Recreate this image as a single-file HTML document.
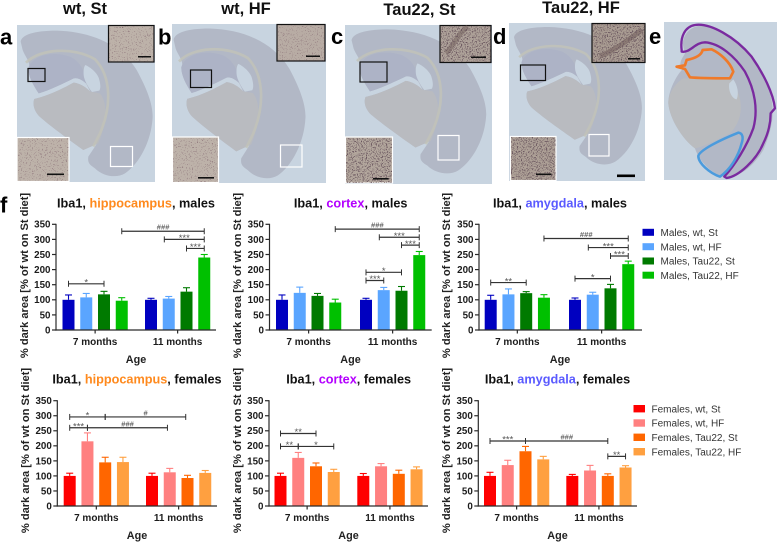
<!DOCTYPE html>
<html lang="en">
<head>
<meta charset="utf-8">
<title>Iba1 dark area figure</title>
<style>
html,body{margin:0;padding:0;background:#fff;}
svg{display:block;font-family:"Liberation Sans",sans-serif;}
.panel-letter{font-size:22px;font-weight:bold;fill:#000;}
.panel-title{font-size:16.5px;font-weight:bold;fill:#111;text-anchor:middle;}
.chart-title{font-size:12.7px;font-weight:bold;fill:#111;text-anchor:middle;}
.y-title{font-size:11.1px;font-weight:bold;fill:#222;text-anchor:middle;}
.x-title{font-size:10.8px;font-weight:bold;fill:#222;text-anchor:middle;}
.tick{font-size:9.8px;font-weight:bold;fill:#1c1c1c;}
.group{font-size:10px;font-weight:bold;fill:#1c1c1c;text-anchor:middle;}
.legend{font-size:10px;fill:#333;}
.sig-star{font-size:9.5px;fill:#555;text-anchor:middle;}
.sig-hash{font-size:7.6px;font-style:italic;font-weight:bold;fill:#666;text-anchor:middle;}
</style>
</head>
<body>
<svg id="figure" xmlns="http://www.w3.org/2000/svg" width="778" height="543" viewBox="0 0 778 543">
<defs>
<filter id="speckle" x="0" y="0" width="100%" height="100%">
<feTurbulence type="fractalNoise" baseFrequency="0.8" numOctaves="2" seed="4"/>
<feColorMatrix type="matrix" values="0 0 0 0 .25  0 0 0 0 .16  0 0 0 0 .18  7 0 0 0 -4.3"/>
</filter>
<filter id="speckle-dense" x="0" y="0" width="100%" height="100%">
<feTurbulence type="fractalNoise" baseFrequency="0.8" numOctaves="2" seed="9"/>
<feColorMatrix type="matrix" values="0 0 0 0 .14  0 0 0 0 .09  0 0 0 0 .11  7 0 0 0 -3.7"/>
</filter>
<g id="brain">
<path fill="#b2b8c6" d="M62,125 C65,105 100,92 170,92 C270,95 360,130 410,210 C440,265 458,310 458,350 C455,420 420,490 375,520 C350,535 310,530 285,505 C270,495 262,490 265,470 L290,432 L250,450 C215,425 160,385 125,355 C105,340 96,315 103,297 L121,292 C161,280 195,262 221,248 C240,250 258,262 271,275 L258,250 C245,238 230,232 221,235 C190,250 150,270 116,280 C100,255 85,230 85,205 C95,190 75,170 68,150 Z"/>
<path fill="#b9bbc0" d="M103,297 L121,292 C161,280 195,262 221,248 C240,250 258,262 271,275 L300,280 C325,310 320,370 295,430 L250,450 C215,425 160,385 125,355 C105,340 96,315 103,297 Z"/>
<path fill="#adb3c6" d="M85,205 C95,170 150,150 210,170 C240,185 255,210 258,250 C245,238 230,232 221,235 C190,250 150,270 116,280 C100,255 85,230 85,205 Z"/>
<path fill="none" stroke="#c2c3b8" stroke-width="8" opacity=".8" d="M78,188 C120,145 220,140 285,178 C335,230 335,320 300,400 L280,440"/>
<path fill="#c8d4e0" d="M256,195 C278,205 296,225 298,240 C302,255 302,265 298,272 L276,276 C265,262 252,240 251,225 C250,210 252,200 256,195 Z"/>
</g>
</defs>

<rect width="778" height="543" fill="#fff"/>

<g>
<rect x="17" y="25" width="138" height="157" fill="#c8d4e0"/>
<use href="#brain" transform="scale(0.3333)"/>
<rect x="28" y="68.500" width="17" height="13" fill="none" stroke="#111" stroke-width="1.200"/>
<rect x="110.500" y="146.500" width="22" height="20" fill="none" stroke="#fff" stroke-width="1.200"/>
<rect x="108.500" y="25.500" width="45.500" height="36.500" fill="#bdb2a9" stroke="#111" stroke-width="1.200"/>
<rect x="109" y="26" width="44.500" height="35.500" filter="url(#speckle)"/>
<rect x="138" y="56" width="13" height="1.500" fill="#111"/>
<rect x="17" y="137.500" width="52" height="44" fill="#bdb2a9" stroke="#fff" stroke-width="1.200"/>
<rect x="18" y="138" width="50.500" height="43" filter="url(#speckle)"/>
<rect x="47" y="173.500" width="17" height="1.600" fill="#111"/>
</g>

<g>
<rect x="172" y="24" width="154" height="159" fill="#c8d4e0"/>
<use href="#brain" transform="translate(153,-3) scale(0.333,0.343)"/>
<rect x="190.500" y="70" width="21" height="17.500" fill="none" stroke="#111" stroke-width="1.200"/>
<rect x="280.500" y="145" width="21.500" height="22" fill="none" stroke="#fff" stroke-width="1.200"/>
<rect x="277" y="24.500" width="48" height="36.500" fill="#b8aca4" stroke="#111" stroke-width="1.200"/>
<rect x="278" y="25" width="46.500" height="35.500" filter="url(#speckle)"/>
<rect x="306" y="55.500" width="14" height="1.500" fill="#111"/>
<rect x="172.500" y="137" width="46" height="45.500" fill="#bdb2a9" stroke="#fff" stroke-width="1.200"/>
<rect x="173" y="138" width="45" height="44" filter="url(#speckle)"/>
<rect x="198" y="177" width="16" height="1.600" fill="#111"/>
</g>

<g>
<rect x="345" y="25" width="147" height="159" fill="#c8d4e0"/>
<use href="#brain" transform="translate(330.500,-1) scale(0.34,0.33)"/>
<rect x="360" y="62" width="27" height="20" fill="none" stroke="#111" stroke-width="1.200"/>
<rect x="438" y="135.500" width="21" height="24.500" fill="none" stroke="#fff" stroke-width="1.200"/>
<rect x="440" y="25.500" width="51" height="37" fill="#aea299" stroke="#111" stroke-width="1.200"/>
<path d="M446,53 C455,44 458,33 468,27" fill="none" stroke="#6a5652" stroke-width="5" opacity=".45"/>
<rect x="441" y="26" width="49.500" height="36" filter="url(#speckle-dense)"/>
<rect x="471" y="56.500" width="15" height="1.500" fill="#111"/>
<rect x="345.500" y="137" width="47" height="46" fill="#b3a79d" stroke="#fff" stroke-width="1.200"/>
<rect x="346" y="138" width="46" height="45" filter="url(#speckle-dense)"/>
<rect x="373" y="178" width="15.500" height="1.600" fill="#111"/>
</g>

<g>
<rect x="509" y="23" width="136" height="158" fill="#c8d4e0"/>
<use href="#brain" transform="translate(494,-2) scale(0.323,0.315)"/>
<rect x="520.500" y="65" width="25" height="15.500" fill="none" stroke="#111" stroke-width="1.200"/>
<rect x="589" y="134.500" width="20" height="21.500" fill="none" stroke="#fff" stroke-width="1.200"/>
<rect x="592" y="23.500" width="53" height="39" fill="#a99c92" stroke="#111" stroke-width="1.200"/>
<path d="M600,56 C615,50 628,40 642,30" fill="none" stroke="#66534f" stroke-width="5" opacity=".45"/>
<rect x="593" y="24" width="51.500" height="38" filter="url(#speckle-dense)"/>
<rect x="628" y="58" width="12" height="1.500" fill="#111"/>
<rect x="510.500" y="136.500" width="45.500" height="44" fill="#ada096" stroke="#fff" stroke-width="1.200"/>
<rect x="511" y="137" width="44.500" height="43" filter="url(#speckle-dense)"/>
<rect x="536" y="173.500" width="15.500" height="1.600" fill="#111"/>
<rect x="617" y="174.500" width="18" height="2.600" fill="#000"/>
</g>

<g>
<rect x="664" y="22" width="113" height="158" fill="#c8d4e0"/>
<g transform="translate(330,0) scale(0.3333)">
<path fill="#b2b8c6" d="M1058,130 C1065,85 1100,72 1140,78 C1220,105 1290,180 1320,280 C1335,330 1330,380 1300,450 C1270,500 1230,530 1190,532 C1150,525 1110,490 1095,445 C1060,420 1020,360 1015,310 C1015,270 1040,225 1060,205 C1040,195 1060,170 1065,160 Z"/>
<path fill="#babcbf" d="M1060,235 C1110,235 1170,235 1205,240 C1245,300 1240,360 1200,400 C1160,420 1120,440 1095,445 C1060,420 1020,360 1015,310 C1015,280 1035,250 1060,235 Z"/>
<path fill="#c8d4e0" d="M1210,238 C1222,255 1228,280 1220,298 C1205,296 1194,270 1198,250 Z"/>
<path fill="none" stroke="#7a2a9f" stroke-width="7" stroke-linejoin="round" d="M1055,150 C1050,110 1065,80 1095,75 C1140,68 1215,110 1265,170 C1300,220 1330,280 1335,325 L1322,340 C1322,370 1315,400 1300,430 C1280,480 1225,530 1190,534 L1183,530 C1215,495 1250,440 1270,385 C1285,330 1275,270 1245,215 C1215,170 1170,130 1125,127 C1095,127 1080,160 1055,155 Z"/>
<path fill="none" stroke="#ef7a2a" stroke-width="8" stroke-linejoin="round" d="M1070,180 C1095,175 1115,165 1118,150 L1145,148 C1170,160 1200,185 1210,215 L1200,235 C1160,235 1110,235 1080,232 L1065,207 L1040,200 L1065,196 Z"/>
<path fill="none" stroke="#4b9bdd" stroke-width="7.500" stroke-linejoin="round" d="M1225,398 C1240,400 1240,415 1235,430 C1225,470 1200,510 1170,530 C1140,520 1105,490 1105,468 C1110,450 1170,420 1225,398 Z"/>
</g>
</g>

<text class="panel-title" x="85" y="14">wt, St</text>
<text class="panel-title" x="246" y="14">wt, HF</text>
<text class="panel-title" x="419.500" y="15">Tau22, St</text>
<text class="panel-title" x="581" y="13">Tau22, HF</text>
<text class="panel-letter" x="0" y="44.500">a</text>
<text class="panel-letter" x="158" y="44.500">b</text>
<text class="panel-letter" x="331" y="44">c</text>
<text class="panel-letter" x="493" y="44">d</text>
<text class="panel-letter" x="649" y="44">e</text>
<text class="panel-letter" x="0" y="212.500">f</text>

<g>
<text class="chart-title" x="136" y="207.500">Iba1, <tspan fill="#ff8a1e">hippocampus</tspan>, males</text>
<text class="chart-title" x="350.700" y="207.500">Iba1, <tspan fill="#b400ff">cortex</tspan>, males</text>
<text class="chart-title" x="560" y="207.500">Iba1, <tspan fill="#5a5aff">amygdala</tspan>, males</text>
<text class="chart-title" x="137" y="383.500">Iba1, <tspan fill="#ff8a1e">hippocampus</tspan>, females</text>
<text class="chart-title" x="348.700" y="383.500">Iba1, <tspan fill="#b400ff">cortex</tspan>, females</text>
<text class="chart-title" x="557.500" y="383.500">Iba1, <tspan fill="#5a5aff">amygdala</tspan>, females</text>
</g>

<g>
<text class="y-title" transform="translate(28,275.500) rotate(-90)">% dark area [% of wt on St diet]</text>
<text class="y-title" transform="translate(241,275.500) rotate(-90)">% dark area [% of wt on St diet]</text>
<text class="y-title" transform="translate(450,275.500) rotate(-90)">% dark area [% of wt on St diet]</text>
<text class="y-title" transform="translate(29,450.500) rotate(-90)">% dark area [% of wt on St diet]</text>
<text class="y-title" transform="translate(241,450.500) rotate(-90)">% dark area [% of wt on St diet]</text>
<text class="y-title" transform="translate(450,450.500) rotate(-90)">% dark area [% of wt on St diet]</text>
</g>

<g>
<text class="x-title" x="136" y="363">Age</text>
<text class="x-title" x="350.500" y="363">Age</text>
<text class="x-title" x="560" y="363">Age</text>
<text class="x-title" x="137" y="539">Age</text>
<text class="x-title" x="348.500" y="539">Age</text>
<text class="x-title" x="557.500" y="539">Age</text>
</g>

<g>
<rect x="642.500" y="228.800" width="11.500" height="7" fill="#0000c0"/>
<text class="legend" x="660.500" y="236">Males, wt, St</text>
<rect x="642.500" y="243.200" width="11.500" height="7" fill="#5aa5ff"/>
<text class="legend" x="660.500" y="250.300">Males, wt, HF</text>
<rect x="642.500" y="257.500" width="11.500" height="7" fill="#007a00"/>
<text class="legend" x="660.500" y="264.700">Males, Tau22, St</text>
<rect x="642.500" y="271.700" width="11.500" height="7" fill="#00c000"/>
<text class="legend" x="660.500" y="278.900">Males, Tau22, HF</text>
</g>

<g>
<rect x="633.500" y="405" width="11.500" height="7.400" fill="#ff0000"/>
<text class="legend" x="651.500" y="412.400">Females, wt, St</text>
<rect x="633.500" y="419.300" width="11.500" height="7.400" fill="#ff8080"/>
<text class="legend" x="651.500" y="426.700">Females, wt, HF</text>
<rect x="633.500" y="433.600" width="11.500" height="7.400" fill="#ff6600"/>
<text class="legend" x="651.500" y="441">Females, Tau22, St</text>
<rect x="633.500" y="448" width="11.500" height="7.400" fill="#ffa040"/>
<text class="legend" x="651.500" y="455.400">Females, Tau22, HF</text>
</g>

<g id="charts"></g>
</svg>

<script>
const groupLabels = ['7 months', '11 months'];
const yTicks = [0, 50, 100, 150, 200, 250, 300, 350];
const seriesNames = ['wt-st', 'wt-hf', 'tau22-st', 'tau22-hf'];
const maleColors = ['#0000c0', '#5aa5ff', '#007a00', '#00c000'];
const femaleColors = ['#ff0000', '#ff8080', '#ff6600', '#ffa040'];

const hippocampusMalesValues = [100, 108, 118, 97, 100, 104, 127, 240];
const hippocampusMalesUpper = [116, 121, 128, 107, 105, 111, 140, 250];
const hippocampusMalesBrackets = [[3, 7, 327, '###'], [4.75, 7, 300, '***'], [6, 7, 270, '***'], [0, 2, 153, '*']];

const cortexMalesValues = [100, 123, 113, 91, 100, 132, 130, 248];
const cortexMalesUpper = [116, 142, 121, 102, 105, 141, 144, 260];
const cortexMalesBrackets = [[3, 7, 334, '###'], [4.75, 7, 307, '***'], [6, 7, 281, '***'], [4, 6, 191, '*'], [4, 5, 164, '***']];

const amygdalaMalesValues = [100, 118, 122, 107, 100, 117, 138, 218];
const amygdalaMalesUpper = [115, 136, 127, 117, 106, 125, 151, 228];
const amygdalaMalesBrackets = [[3, 7, 303, '###'], [4.75, 7, 273, '***'], [6, 7, 245, '***'], [4, 6, 170, '*'], [0, 2, 157, '**']];

const hippocampusFemalesValues = [100, 215, 145, 146, 100, 112, 93, 110];
const hippocampusFemalesUpper = [109, 243, 162, 162, 109, 125, 102, 118];
const hippocampusFemalesBrackets = [[0, 2, 296, '*'], [2, 5.9, 296, '#'], [0, 1, 260, '***'], [1, 4.87, 260, '###']];

const cortexFemalesValues = [100, 160, 132, 113, 100, 132, 107, 122];
const cortexFemalesUpper = [109, 178, 143, 122, 108, 141, 119, 130];
const cortexFemalesBrackets = [[0, 2, 241, '**'], [0, 1, 198, '**'], [1, 3, 198, '*']];

const amygdalaFemalesValues = [100, 136, 182, 155, 100, 118, 100, 128];
const amygdalaFemalesUpper = [112, 152, 198, 165, 105, 135, 107, 134];
const amygdalaFemalesBrackets = [[0, 2, 216, '***'], [2, 6, 216, '###'], [6, 7, 165, '**']];

const charts = [
  {name: 'hippocampus-males', values: hippocampusMalesValues, upper: hippocampusMalesUpper, brackets: hippocampusMalesBrackets, colors: maleColors, left: 56, right: 216, top: 224.3, base: 330, first: 62.5, second: 145, labelY: 345},
  {name: 'cortex-males', values: cortexMalesValues, upper: cortexMalesUpper, brackets: cortexMalesBrackets, colors: maleColors, left: 269.5, right: 431.7, top: 224.3, base: 330, first: 276, second: 360, labelY: 345},
  {name: 'amygdala-males', values: amygdalaMalesValues, upper: amygdalaMalesUpper, brackets: amygdalaMalesBrackets, colors: maleColors, left: 479, right: 642, top: 224.3, base: 330, first: 484.7, second: 569, labelY: 345},
  {name: 'hippocampus-females', values: hippocampusFemalesValues, upper: hippocampusFemalesUpper, brackets: hippocampusFemalesBrackets, colors: femaleColors, left: 57.3, right: 217, top: 400.7, base: 506, first: 63.7, second: 146, labelY: 521},
  {name: 'cortex-females', values: cortexFemalesValues, upper: cortexFemalesUpper, brackets: cortexFemalesBrackets, colors: femaleColors, left: 269, right: 428, top: 400.7, base: 506, first: 274.5, second: 357.3, labelY: 521},
  {name: 'amygdala-females', values: amygdalaFemalesValues, upper: amygdalaFemalesUpper, brackets: amygdalaFemalesBrackets, colors: femaleColors, left: 478.3, right: 637, top: 400.7, base: 506, first: 484, second: 566.3, labelY: 521}
];

const SVG_NS = 'http://www.w3.org/2000/svg';
const BAR_WIDTH = 12;
const BAR_STEP = 17.75;
const AXIS_COLOR = '#2a2a2a';
const BRACKET_COLOR = '#333333';

function make(parent, tag, attrs, text) {
  const node = document.createElementNS(SVG_NS, tag);
  Object.keys(attrs).forEach(function (key) { node.setAttribute(key, attrs[key]); });
  if (text !== undefined) node.textContent = text;
  parent.appendChild(node);
  return node;
}

function drawChart(chart) {
  const root = document.getElementById('charts');
  const group = make(root, 'g', {});
  
  

  const yScale = function (v) { return chart.base - (v / 350) * (chart.base - chart.top); };
  const barLeft = function (i) {
    const start = i < 4 ? chart.first : chart.second;
    return start + (i % 4) * BAR_STEP;
  };
  const barCenter = function (i) {
    const low = Math.floor(i);
    const high = Math.min(low + 1, 7);
    const f = i - low;
    return barLeft(low) + BAR_WIDTH / 2 + f * (barLeft(high) - barLeft(low));
  };
  const line = function (parent, x1, y1, x2, y2, color, width) {
    return make(parent, 'line', {x1: x1, y1: y1, x2: x2, y2: y2, stroke: color, 'stroke-width': width});
  };

  chart.values.forEach(function (value, i) {
    const x = barLeft(i);
    const cx = x + BAR_WIDTH / 2;
    const color = chart.colors[i % 4];
    const seriesName = seriesNames[i % 4] + '-' + (i < 4 ? '7-months' : '11-months');
    const whisker = make(group, 'g', {});
    
    
    line(whisker, cx, yScale(value), cx, yScale(chart.upper[i]), color, 1.1);
    line(whisker, cx - 3.5, yScale(chart.upper[i]), cx + 3.5, yScale(chart.upper[i]), color, 1.1);
    const bar = make(group, 'rect', {x: x, y: yScale(value), width: BAR_WIDTH, height: chart.base - yScale(value), fill: color});
    
    
  });

  const yAxis = line(group, chart.left, chart.top - 0.5, chart.left, chart.base + 0.6, AXIS_COLOR, 1.2);
  
  
  const xAxis = line(group, chart.left - 0.6, chart.base, chart.right, chart.base, AXIS_COLOR, 1.2);
  
  

  yTicks.forEach(function (tick) {
    const mark = line(group, chart.left - 4, yScale(tick), chart.left, yScale(tick), AXIS_COLOR, 1.2);
    
    
    const label = make(group, 'text', {class: 'tick', x: chart.left - 5.5, y: yScale(tick) + 3.4, 'text-anchor': 'end'}, String(tick));
    
    
  });

  groupLabels.forEach(function (text, g) {
    const cx = (barLeft(g * 4) + barLeft(g * 4 + 3) + BAR_WIDTH) / 2;
    const mark = line(group, cx, chart.base, cx, chart.base + 3.5, AXIS_COLOR, 1.2);
    
    
    const label = make(group, 'text', {class: 'group', x: cx, y: chart.labelY}, text);
    
    
  });

  chart.brackets.forEach(function (row) {
    const x1 = barCenter(row[0]);
    const x2 = barCenter(row[1]);
    const y = yScale(row[2]);
    const bracket = make(group, 'g', {});
    
    
    line(bracket, x1, y, x2, y, BRACKET_COLOR, 1.2);
    line(bracket, x1, y - 3, x1, y + 3, BRACKET_COLOR, 1);
    line(bracket, x2, y - 3, x2, y + 3, BRACKET_COLOR, 1);
    const isStar = row[3].charAt(0) === '*';
    const label = make(bracket, 'text', {class: isStar ? 'sig-star' : 'sig-hash', x: (x1 + x2) / 2, y: isStar ? y + 1.7 : y - 1.5}, row[3]);
    
    
  });
}

charts.forEach(drawChart);
</script>
</body>
</html>
